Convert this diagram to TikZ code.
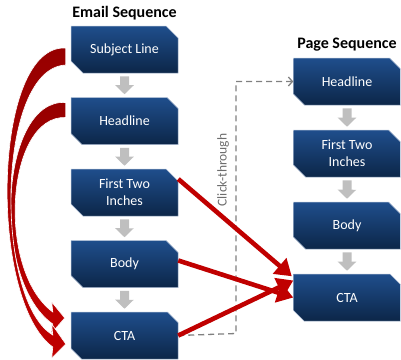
\documentclass[tikz,border=0pt]{standalone}
\usepackage{fontspec}
\setmainfont{Carlito}
\usetikzlibrary{positioning,shapes.misc,arrows.meta,calc}

\definecolor{boxtop}{RGB}{31,78,140}
\definecolor{boxbot}{RGB}{12,38,72}
\definecolor{boxedge}{RGB}{170,186,210}
\definecolor{flowgray}{RGB}{191,191,191}
\definecolor{linkred}{RGB}{192,0,0}
\definecolor{curvetop}{RGB}{150,0,0}
\definecolor{dashgray}{RGB}{128,128,128}

\tikzset{
	seqbox/.style={chamfered rectangle, chamfered rectangle corners={north east,south west}, chamfered rectangle sep=6pt, top color=boxtop, bottom color=boxbot, draw=boxedge, line width=0.5pt, minimum width=107pt, minimum height=47pt, inner sep=0pt, text=white, align=center, font=\fontsize{14}{17}\selectfont},
	seqtitle/.style={font=\fontsize{16}{19}\selectfont\bfseries, inner sep=0pt},
	flowarrow/.style={draw=flowgray, line width=9pt, -{Triangle[length=9pt,width=18pt]}, shorten <=3pt, shorten >=3pt},
	linkarrow/.style={draw=linkred, line width=4.6pt, -{Triangle[length=16pt,width=20pt]}},
	clickline/.style={draw=dashgray, line width=1.3pt, dash pattern=on 6pt off 4pt, -{Straight Barb[length=4pt,width=9pt]}},
	curvearrow/.style={top color=curvetop, bottom color=linkred, draw=white, line width=0.6pt}
}

\begin{document}
\begin{tikzpicture}[x=1pt,y=1pt,yscale=-1,xscale=1]
	\useasboundingbox (0,0) rectangle (401,359);
	\node[seqbox] (subj) at (124.5,49.5) {Subject Line};
	\node[seqbox, below=24pt of subj] (ehead) {Headline};
	\node[seqbox, below=24pt of ehead] (efirst) {First Two\\Inches};
	\node[seqbox, below=24pt of efirst] (ebody) {Body};
	\node[seqbox, below=24pt of ebody] (ecta) {CTA};
	\node[seqtitle, above=6pt of subj] (etitle) {Email Sequence};
	\node[seqbox] (phead) at (347,81.5) {Headline};
	\node[seqbox, below=24.5pt of phead] (pfirst) {First Two\\Inches};
	\node[seqbox, below=24.5pt of pfirst] (pbody) {Body};
	\node[seqbox, below=24.5pt of pbody] (pcta) {CTA};
	\node[seqtitle, above=6pt of phead] (ptitle) {Page Sequence};
	\foreach \a/\b in {subj/ehead, ehead/efirst, efirst/ebody, ebody/ecta, phead/pfirst, pfirst/pbody, pbody/pcta}
		\draw[flowarrow] (\a) -- (\b);
	\coordinate (clickturn) at (236,333.5);
	\draw[clickline] (ecta.east) -- (clickturn) |- (phead.west);
	\node[rotate=90, text=dashgray!85!black, font=\fontsize{13.5}{16}\selectfont] (clicklabel) at (223,170) {Click-through};
	\shadedraw[curvearrow] ($(ehead.west)+(-5,-18.5)$) .. controls (0,98) and (-10,280) .. ($(ecta.west)+(-18,-11.5)$) -- ($(ecta.west)+(-20,-1.5)$) -- ($(ecta.west)+(-6,-17.5)$) -- ($(ecta.west)+(-19,-33.5)$) -- ($(ecta.west)+(-18,-23.5)$) .. controls (-4,270) and (6,115) .. ($(ehead.west)+(-5,-3.5)$) -- cycle;
	\shadedraw[curvearrow] ($(subj.west)+(-5,-1.5)$) .. controls (-8,44) and (-12,300) .. ($(ecta.west)+(-18,11.5)$) -- ($(ecta.west)+(-19,22.5)$) -- ($(ecta.west)+(-5,8.5)$) -- ($(ecta.west)+(-19,-11.5)$) -- ($(ecta.west)+(-18,-0.5)$) .. controls (-6,300) and (-4,68) .. ($(subj.west)+(-5,15.5)$) -- cycle;
	\draw[linkarrow] ([yshift=-13.5pt]efirst.east) -- ([xshift=-1.5pt,yshift=2.5pt]pcta.north west);
	\draw[linkarrow] ([yshift=-3.5pt]ebody.east) -- (pcta.west);
	\draw[linkarrow] (ecta.east) -- ([yshift=-17pt]pcta.west);
\end{tikzpicture}
\end{document}
